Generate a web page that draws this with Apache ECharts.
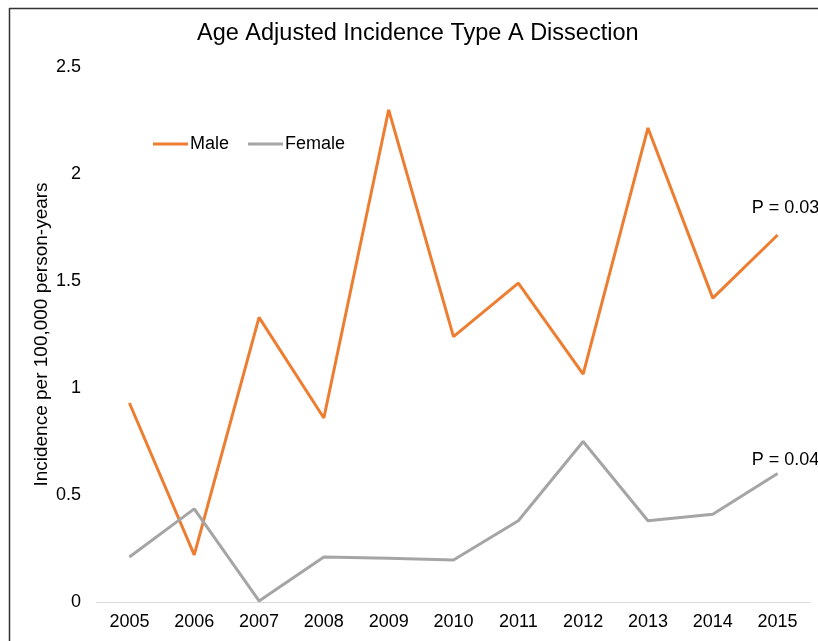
<!DOCTYPE html>
<html><head><meta charset="utf-8">
<script src="https://cdn.jsdelivr.net/npm/echarts@6/dist/echarts.min.js"></script>
<style>html,body{margin:0;padding:0;background:#fff}#c{width:818px;height:641px}</style>
</head><body><div id="c"></div>
<script>
const years = ['2005','2006','2007','2008','2009','2010','2011','2012','2013','2014','2015'];
const male = [0.93,0.22,1.33,0.86,2.30,1.24,1.49,1.065,2.215,1.42,1.715];
const female = [0.21,0.435,0.005,0.21,0.205,0.196,0.38,0.75,0.38,0.41,0.60];
const pLabels = ['P = 0.03','P = 0.04'];
const font = 'Liberation Sans, Arial, Helvetica, sans-serif';

function withEndLabel(arr, text, dist) {
  return arr.map((v, i) => i === arr.length - 1 ? {
    value: v,
    symbol: 'circle', symbolSize: 1,
    itemStyle: {opacity: 0},
    label: {show: true, position: 'top', distance: dist, offset: [8, 0], formatter: text,
      color: '#000', fontSize: 18, fontFamily: font, opacity: 1}
  } : v);
}

const chart = echarts.init(document.getElementById('c'));
chart.setOption({
  animation: false,
  title: {text: 'Age Adjusted Incidence Type A Dissection', left: 192, top: 17,
    textStyle: {fontFamily: font, fontSize: 23.5, fontWeight: 'normal', color: '#000'}},
  legend: {left: 148, top: 130, itemWidth: 35, itemHeight: 3, itemGap: 19, icon: 'rect',
    textStyle: {fontFamily: font, fontSize: 18, color: '#000', padding: [0,0,0,-3]},
    data: ['Male','Female']},
  grid: {left: 97, right: 8, top: 67, bottom: 39, containLabel: false},
  xAxis: {type: 'category', data: years, boundaryGap: true,
    axisLine: {lineStyle: {color: '#d9d9d9', width: 1}}, axisTick: {show: false},
    axisLabel: {color: '#000', fontSize: 18, fontFamily: font, margin: 11}},
  yAxis: {type: 'value', min: 0, max: 2.5, interval: 0.5,
    name: 'Incidence per 100,000 person-years', nameLocation: 'middle', nameGap: 46,
    nameMoveOverlap: false,
    nameTextStyle: {fontFamily: font, fontSize: 19, color: '#000'},
    axisLine: {show: false}, axisTick: {show: false}, splitLine: {show: false},
    axisLabel: {color: '#000', fontSize: 18, fontFamily: font, margin: 16}},
  graphic: [
    {type: 'line', shape: {x1: 9.5, y1: 8, x2: 9.5, y2: 641}, style: {stroke: '#333', lineWidth: 1.5}},
    {type: 'line', shape: {x1: 9, y1: 8.5, x2: 818, y2: 8.5}, style: {stroke: '#333', lineWidth: 1.5}}
  ],
  series: [
    {name: 'Male', type: 'line', data: withEndLabel(male, pLabels[0], 17), symbol: 'none', showSymbol: true,
      lineStyle: {color: '#ED7D31', width: 3}, itemStyle: {color: '#ED7D31'}},
    {name: 'Female', type: 'line', data: withEndLabel(female, pLabels[1], 4), symbol: 'none', showSymbol: true,
      lineStyle: {color: '#A5A5A5', width: 3}, itemStyle: {color: '#A5A5A5'}}
  ]
});
</script></body></html>
